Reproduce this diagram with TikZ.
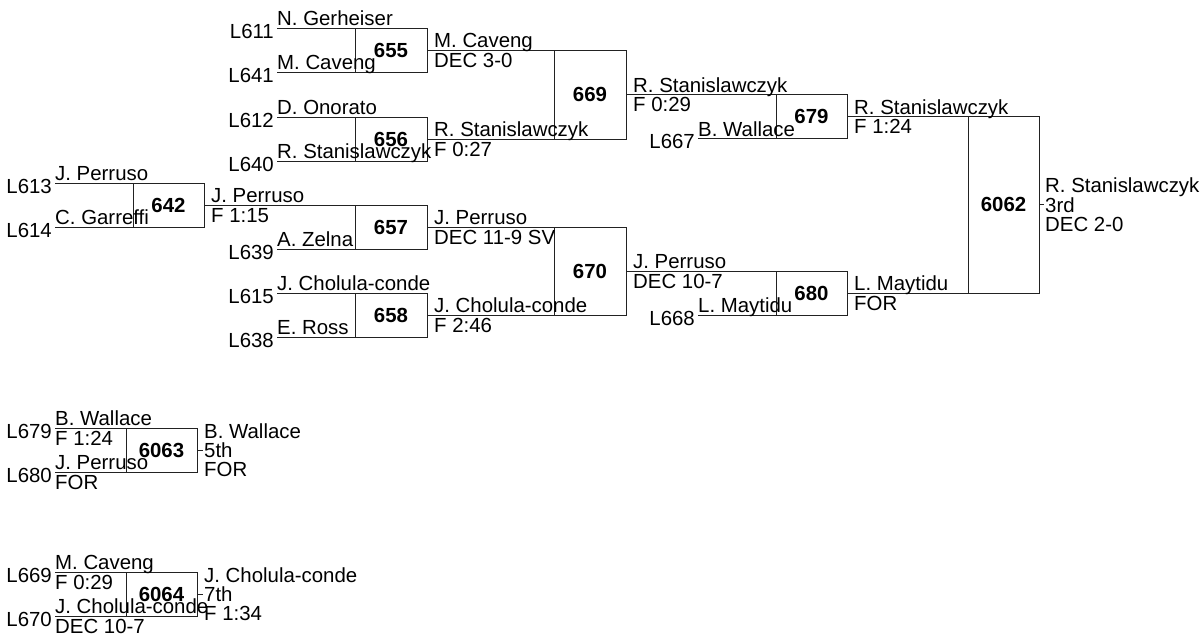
\documentclass[tikz,border=0pt]{standalone}
\usepackage{fontspec}
\setmainfont{Liberation Sans}
\usepackage{tikz}
\usetikzlibrary{positioning}
\definecolor{linegray}{HTML}{222222}

\begin{document}
\begin{tikzpicture}[
  x=1pt, y=-1pt,
  font=\fontsize{20.4}{19}\selectfont,
  bout/.style={rectangle, draw=linegray, line width=1pt, inner sep=0pt, outer sep=0pt, minimum width=72pt, minimum height=44pt, font=\fontsize{20.4}{19}\selectfont\bfseries},
  seed/.style={anchor=base east, inner sep=0pt, xshift=-3pt, yshift=-10pt},
  entrant/.style={anchor=base west, inner sep=0pt, yshift=2.5pt},
  entscore/.style={anchor=north west, inner sep=0pt, yshift=-3pt},
  winner/.style={anchor=base west, inner sep=0pt, xshift=7pt, yshift=2.5pt},
  score/.style={anchor=north west, inner sep=0pt, xshift=7pt, yshift=-3pt},
  placing/.style={anchor=west, inner sep=0pt, align=left},
  wire/.style={draw=linegray, line width=1pt},
]

  \useasboundingbox (0,0) rectangle (1202,637);

  % bout boxes
  \node[bout] (m655) at (391,50) {655};
  \node[bout] (m656) at (391,139) {656};
  \node[bout, minimum width=71pt] (m642) at (168.5,205) {642};
  \node[bout] (m657) at (391,227) {657};
  \node[bout] (m658) at (391,315) {658};
  \node[bout, minimum height=89pt] (m669) at (590,94.5) {669};
  \node[bout, minimum height=88pt] (m670) at (590,271) {670};
  \node[bout, minimum width=71pt] (m679) at (811.5,116.5) {679};
  \node[bout, minimum width=71pt] (m680) at (811.5,293) {680};
  \node[bout, minimum width=71pt, minimum height=176.5pt] (m6062) at (1003.5,204.75) {6062};
  \node[bout, minimum width=71pt] (m6063) at (161.5,450) {6063};
  \node[bout, minimum width=71pt] (m6064) at (161.5,594) {6064};

  % entrant line starts
  \coordinate (s611) at (277,28);
  \coordinate (s641) at (277,72);
  \coordinate (s612) at (277,117);
  \coordinate (s640) at (277,161);
  \coordinate (s613) at (55,183);
  \coordinate (s614) at (55,227);
  \coordinate (s639) at (277,249);
  \coordinate (s615) at (277,293);
  \coordinate (s638) at (277,337);
  \coordinate (s667) at (698,138.5);
  \coordinate (s668) at (698,315);
  \coordinate (s679) at (55,428);
  \coordinate (s680) at (55,472);
  \coordinate (s669) at (55,572);
  \coordinate (s670) at (55,616);

  \draw[wire] (s611) -- (m655.north west);
  \draw[wire] (s641) -- (m655.south west);
  \draw[wire] (s612) -- (m656.north west);
  \draw[wire] (s640) -- (m656.south west);
  \draw[wire] (s613) -- (m642.north west);
  \draw[wire] (s614) -- (m642.south west);
  \draw[wire] (s639) -- (m657.south west);
  \draw[wire] (s615) -- (m658.north west);
  \draw[wire] (s638) -- (m658.south west);
  \draw[wire] (s667) -- (m679.south west);
  \draw[wire] (s668) -- (m680.south west);
  \draw[wire] (s679) -- (m6063.north west);
  \draw[wire] (s680) -- (m6063.south west);
  \draw[wire] (s669) -- (m6064.north west);
  \draw[wire] (s670) -- (m6064.south west);

  % winners moving on
  \draw[wire] (m655.east) -- (m669.north west);
  \draw[wire] (m656.east) -- (m669.south west);
  \draw[wire] (m642.east) -- (m657.north west);
  \draw[wire] (m657.east) -- (m670.north west);
  \draw[wire] (m658.east) -- (m670.south west);
  \draw[wire] (m669.east) -- (m679.north west);
  \draw[wire] (m670.east) -- (m680.north west);
  \draw[wire] (m679.east) -- (m6062.north west);
  \draw[wire] (m680.east) -- (m6062.south west);

  \coordinate[right=5pt of m6062] (t6062);
  \coordinate[right=6pt of m6063] (t6063);
  \coordinate[right=6pt of m6064] (t6064);
  \draw[wire] (m6062.east) -- (t6062);
  \draw[wire] (m6063.east) -- (t6063);
  \draw[wire] (m6064.east) -- (t6064);

  % seeds
  \node[seed] (l611) at (s611) {L611};
  \node[seed] (l641) at (s641) {L641};
  \node[seed] (l612) at (s612) {L612};
  \node[seed] (l640) at (s640) {L640};
  \node[seed] (l613) at (s613) {L613};
  \node[seed] (l614) at (s614) {L614};
  \node[seed] (l639) at (s639) {L639};
  \node[seed] (l615) at (s615) {L615};
  \node[seed] (l638) at (s638) {L638};
  \node[seed] (l667) at (s667) {L667};
  \node[seed] (l668) at (s668) {L668};
  \node[seed] (l679) at (s679) {L679};
  \node[seed] (l680) at (s680) {L680};
  \node[seed] (l669) at (s669) {L669};
  \node[seed] (l670) at (s670) {L670};

  % entrants
  \node[entrant] (n611) at (s611) {N. Gerheiser};
  \node[entrant] (n641) at (s641) {M. Caveng};
  \node[entrant] (n612) at (s612) {D. Onorato};
  \node[entrant] (n640) at (s640) {R. Stanislawczyk};
  \node[entrant] (n613) at (s613) {J. Perruso};
  \node[entrant] (n614) at (s614) {C. Garreffi};
  \node[entrant] (n639) at (s639) {A. Zelna};
  \node[entrant] (n615) at (s615) {J. Cholula-conde};
  \node[entrant] (n638) at (s638) {E. Ross};
  \node[entrant] (n667) at (s667) {B. Wallace};
  \node[entrant] (n668) at (s668) {L. Maytidu};
  \node[entrant] (n679) at (s679) {B. Wallace};
  \node[entscore] (r679) at (s679) {F 1:24};
  \node[entrant] (n680) at (s680) {J. Perruso};
  \node[entscore] (r680) at (s680) {FOR};
  \node[entrant] (n669) at (s669) {M. Caveng};
  \node[entscore] (r669) at (s669) {F 0:29};
  \node[entrant] (n670) at (s670) {J. Cholula-conde};
  \node[entscore] (r670) at (s670) {DEC 10-7};

  % results
  \node[winner] (w655) at (m655.east) {M. Caveng};
  \node[score] (r655) at (m655.east) {DEC 3-0};
  \node[winner] (w656) at (m656.east) {R. Stanislawczyk};
  \node[score] (r656) at (m656.east) {F 0:27};
  \node[winner] (w642) at (m642.east) {J. Perruso};
  \node[score] (r642) at (m642.east) {F 1:15};
  \node[winner] (w657) at (m657.east) {J. Perruso};
  \node[score] (r657) at (m657.east) {DEC 11-9 SV};
  \node[winner] (w658) at (m658.east) {J. Cholula-conde};
  \node[score] (r658) at (m658.east) {F 2:46};
  \node[winner] (w669) at (m669.east) {R. Stanislawczyk};
  \node[score] (r669) at (m669.east) {F 0:29};
  \node[winner] (w670) at (m670.east) {J. Perruso};
  \node[score] (r670) at (m670.east) {DEC 10-7};
  \node[winner] (w679) at (m679.east) {R. Stanislawczyk};
  \node[score] (r679) at (m679.east) {F 1:24};
  \node[winner] (w680) at (m680.east) {L. Maytidu};
  \node[score] (r680) at (m680.east) {FOR};

  % placings
  \node[placing, right=1pt of t6062] (p6062) {R. Stanislawczyk\\3rd\\DEC 2-0};
  \node[placing, right=1pt of t6063] (p6063) {B. Wallace\\5th\\FOR};
  \node[placing, right=1pt of t6064] (p6064) {J. Cholula-conde\\7th\\F 1:34};

\end{tikzpicture}
\end{document}
